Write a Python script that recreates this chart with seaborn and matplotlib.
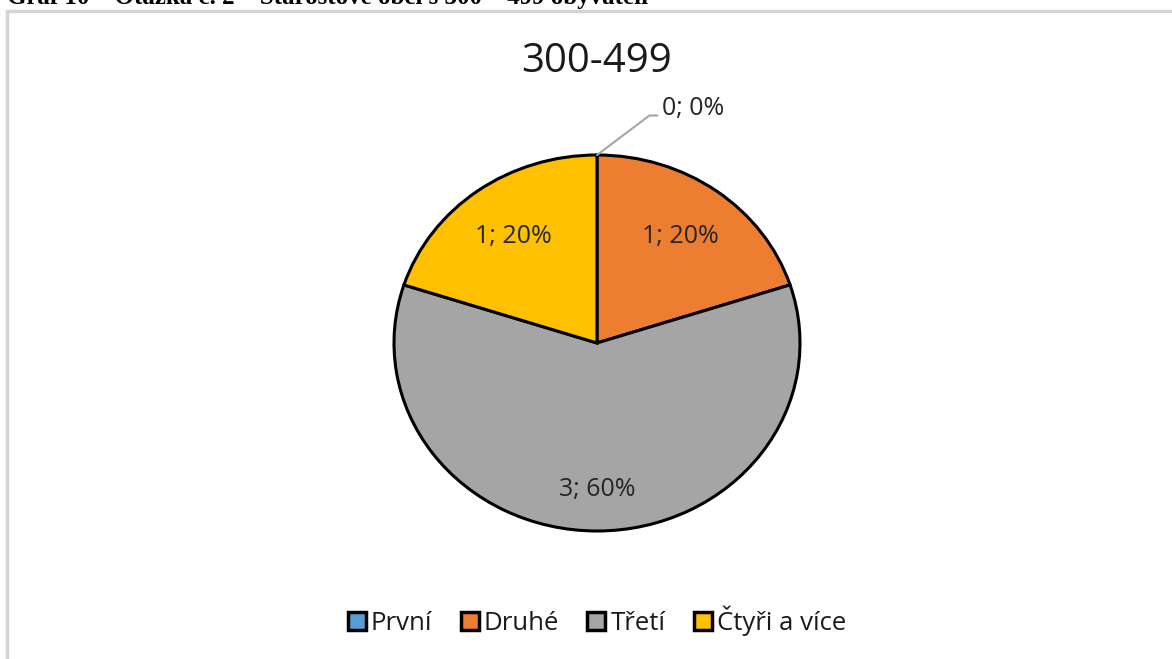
import matplotlib
matplotlib.use("Agg")
import matplotlib.pyplot as plt
import seaborn as sns
import numpy as np
from matplotlib.patches import Patch, Rectangle

categories = ["První", "Druhé", "Třetí", "Čtyři a více"]
counts = [0, 1, 3, 1]
colors = ["#5B9BD5", "#ED7D31", "#A5A5A5", "#FFC000"]
chart_title = "300-499"
caption = "Graf 10 – Otázka č. 2 – Starostové obcí s 300 – 499 obyvateli"

sns.set_theme(style="white")
plt.rcParams["font.family"] = ["Open Sans", "DejaVu Sans"]

W, H = 1172, 659
fig = plt.figure(figsize=(W / 100, H / 100), dpi=100)
fig.patch.set_facecolor("white")

# light grey chart frame (cut off on the right and bottom)
fig.patches.append(Rectangle((7 / W, -0.1), 1.2, (H - 11) / H + 0.1, transform=fig.transFigure,
                             fill=False, edgecolor="#D4D4D4", linewidth=2.5))

# caption above, cropped
fig.text(0.006, 1 - 4 / H, caption, family="Liberation Serif", fontweight="bold",
         fontsize=18, ha="left", va="baseline", color="black")

# pie axes: Excel stretched it a little horizontally
cx, cy, rx, ry = 597, 343, 203, 188
ax = fig.add_axes([(cx - rx) / W, (H - cy - ry) / H, 2 * rx / W, 2 * ry / H])

total = sum(counts)
lab_color = "#262626"


def fmt(p):
    n = int(round(p * total / 100))
    return "" if n == 0 else f"{n}; {p:.0f}%"


wedges, texts, autotexts = ax.pie(counts, colors=colors, startangle=90, counterclock=False,
                                  autopct=fmt, pctdistance=0.7,
                                  wedgeprops=dict(edgecolor="black", linewidth=2.2),
                                  textprops=dict(fontsize=18, color=lab_color))
for t, n in zip(autotexts, counts):
    if n / total > 0.5:
        x, y = t.get_position()
        t.set_position((x * 0.78 / 0.7, y * 0.78 / 0.7))

# zero slice label with leader
for w, n in zip(wedges, counts):
    if n == 0:
        ang = np.deg2rad(w.theta1)
        ax.annotate(f"{n}; 0%", xy=(np.cos(ang), np.sin(ang)), xytext=(0.32, 1.25),
                    ha="left", va="center", fontsize=18, color=lab_color,
                    arrowprops=dict(arrowstyle="-", color="#A6A6A6", lw=1.5,
                                    relpos=(0, 0.2), shrinkA=1, shrinkB=0,
                                    connectionstyle="angle,angleA=0,angleB=37"))

ax.set_aspect("auto")
ax.set_xlim(-1, 1)
ax.set_ylim(-1, 1)
ax.axis("off")

fig.text(cx / W, 1 - 62 / H, chart_title, ha="center", va="center", fontsize=29, color="#1a1a1a")

handles = [Patch(facecolor=c, edgecolor="black", linewidth=2.5) for c in colors]
fig.legend(handles, categories, loc="center", bbox_to_anchor=(cx / W, 1 - 621 / H), ncol=4,
           frameon=False, fontsize=18.5, handlelength=0.7, handleheight=0.7, handletextpad=0.2,
           columnspacing=1.1, labelcolor="#1a1a1a")

fig.savefig("out.png", dpi=100)
